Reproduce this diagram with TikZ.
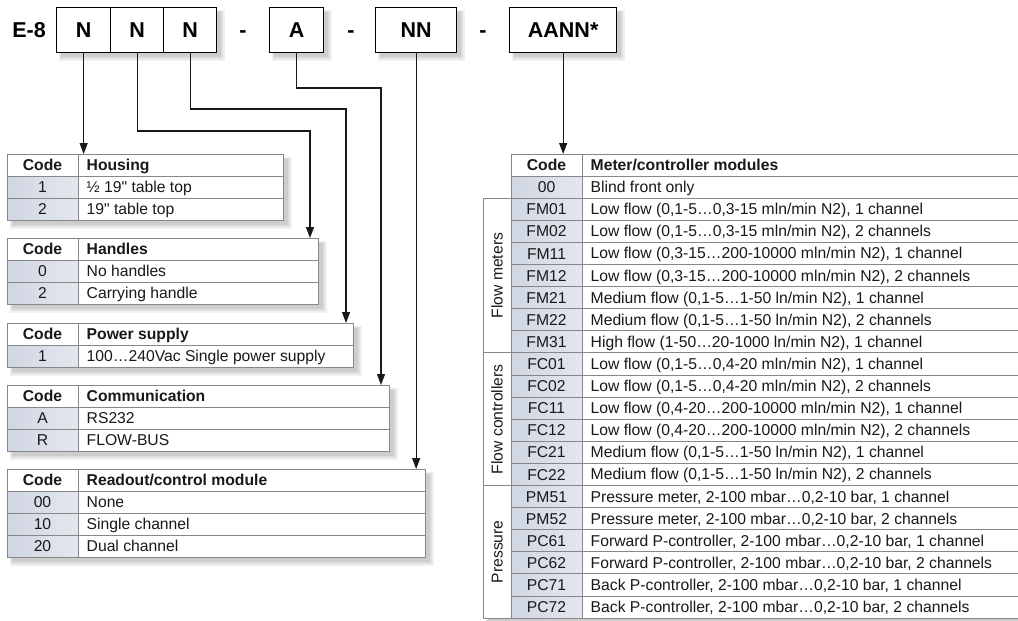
\documentclass[tikz,border=0pt]{standalone}
\usepackage{fontspec}
\setmainfont{Liberation Sans}[Ligatures=TeXOff]
\usetikzlibrary{arrows.meta}
\definecolor{tline}{RGB}{135,135,135}
\definecolor{codeA}{RGB}{208,214,226}
\definecolor{codeB}{RGB}{228,231,238}
\definecolor{ink}{RGB}{25,25,25}
\newcommand{\tabfont}{\fontsize{15.7}{18}\selectfont}
\newcommand{\boxfont}{\fontsize{21.5}{24}\selectfont\bfseries}
\newcommand{\headrow}[5]{%
  \node[hcodecell] (#1c) at (#2,#3) {Code};
  \node[desccell, minimum width=#4pt] (#1d) at (#2+71,#3) {};
  \node[hdesctext] (#1t) at ([xshift=8.5pt,yshift=-5.5pt]#1d.west) {#5};
}
\newcommand{\tabrow}[6]{%
  \node[codecell] (#1c) at (#2,#3) {#5};
  \node[desccell, minimum width=#4pt] (#1d) at (#2+71,#3) {};
  \node[desctext] (#1t) at ([xshift=8.5pt,yshift=-5.5pt]#1d.west) {#6};
}
\newcommand{\softshadow}[4]{%
  \fill[black,opacity=0.06] (#1+3,#2+3) rectangle (#3+9,#4+9);
  \fill[black,opacity=0.07] (#1+4,#2+4) rectangle (#3+7,#4+7);
  \fill[black,opacity=0.08] (#1+5,#2+5) rectangle (#3+5,#4+5);
}
\tikzset{
  cellbase/.style={draw=tline, line width=0.9pt, inner sep=0pt, outer sep=0pt,
    anchor=north west, minimum height=22.1pt, text=ink, text height=11.1pt, text depth=0pt},
  codecell/.style={cellbase, minimum width=71pt, left color=codeA, right color=codeB, font=\tabfont},
  hcodecell/.style={cellbase, minimum width=71pt, fill=white, font=\tabfont\bfseries},
  desccell/.style={cellbase, fill=white},
  catcell/.style={cellbase, fill=white, minimum width=28pt},
  desctext/.style={anchor=base west, inner sep=0pt, font=\tabfont, text=ink},
  hdesctext/.style={desctext, font=\tabfont\bfseries},
  cattext/.style={rotate=90, inner sep=0pt, font=\tabfont, text=ink, text height=11.1pt, text depth=0pt},
  hbox/.style={draw=black, line width=1.3pt, fill=white, minimum height=45pt, inner sep=0pt,
    font=\boxfont, anchor=north west, text height=15.4pt, text depth=0pt},
  hlabel/.style={inner sep=0pt, font=\boxfont, text height=15.4pt, text depth=0pt},
  conn/.style={draw=black!90, line width=1.2pt},
  arr/.style={conn, -{Triangle[width=8pt,length=11pt]}},
}
\begin{document}
\begin{tikzpicture}[x=1pt,y=-1pt]
\useasboundingbox (0,0) rectangle (1018,621);
\clip (0,0) rectangle (1018,621);
\fill[white] (0,0) rectangle (1018,621);

% shadows
\softshadow{56}{7}{216}{52}
\softshadow{269}{7}{323}{52}
\softshadow{375}{7}{456}{52}
\softshadow{509}{7}{616}{52}
\softshadow{7}{154}{283}{220.3}
\softshadow{7}{238}{318}{304.3}
\softshadow{7}{323}{353}{367.2}
\softshadow{7}{385}{389}{451.3}
\softshadow{7}{469}{425}{557.4}
\softshadow{511}{154}{1030}{198.2}
\softshadow{483}{198.2}{1030}{618.1}

% header code
\node[hlabel] (e8) at (29,29.5) {E-8};
\node[hbox, minimum width=54pt] (n1) at (56,7) {N};
\node[hbox, minimum width=53pt] (n2) at (110,7) {N};
\node[hbox, minimum width=53pt] (n3) at (163,7) {N};
\node[hlabel] (dash1) at (243,29.5) {-};
\node[hbox, minimum width=54pt] (ba) at (269,7) {A};
\node[hlabel] (dash2) at (351,29.5) {-};
\node[hbox, minimum width=81pt] (bnn) at (375,7) {NN};
\node[hlabel] (dash3) at (483,29.5) {-};
\node[hbox, minimum width=107pt] (baann) at (509,7) {AANN*};

% Housing
\headrow{hous}{7}{154}{205}{Housing}
\tabrow{housa}{7}{176.1}{205}{1}{½ 19" table top}
\tabrow{housb}{7}{198.2}{205}{2}{19" table top}
% Handles
\headrow{hand}{7}{238}{240}{Handles}
\tabrow{handa}{7}{260.1}{240}{0}{No handles}
\tabrow{handb}{7}{282.2}{240}{2}{Carrying handle}
% Power
\headrow{pow}{7}{323}{275}{Power supply}
\tabrow{powa}{7}{345.1}{275}{1}{100…240Vac Single power supply}
% Communication
\headrow{com}{7}{385}{311}{Communication}
\tabrow{coma}{7}{407.1}{311}{A}{RS232}
\tabrow{comb}{7}{429.2}{311}{R}{FLOW-BUS}
% Readout
\headrow{read}{7}{469}{347}{Readout/control module}
\tabrow{reada}{7}{491.1}{347}{00}{None}
\tabrow{readb}{7}{513.2}{347}{10}{Single channel}
\tabrow{readc}{7}{535.3}{347}{20}{Dual channel}

% Meter/controller modules
\headrow{mh}{511}{154}{520}{Meter/controller modules}
\tabrow{m00}{511}{176.1}{520}{00}{Blind front only}
\node[catcell, minimum height=154.7pt] (catfm) at (483,198.2) {};
\node[catcell, minimum height=132.6pt] (catfc) at (483,352.9) {};
\node[catcell, minimum height=132.6pt] (catp) at (483,485.5) {};
\node[cattext] (tfm) at (catfm.center) {Flow meters};
\node[cattext] (tfc) at (catfc.center) {Flow controllers};
\node[cattext] (tp) at (catp.center) {Pressure};
\tabrow{fm01}{511}{198.2}{520}{FM01}{Low flow (0,1-5…0,3-15 mln/min N2), 1 channel}
\tabrow{fm02}{511}{220.3}{520}{FM02}{Low flow (0,1-5…0,3-15 mln/min N2), 2 channels}
\tabrow{fm11}{511}{242.4}{520}{FM11}{Low flow (0,3-15…200-10000 mln/min N2), 1 channel}
\tabrow{fm12}{511}{264.5}{520}{FM12}{Low flow (0,3-15…200-10000 mln/min N2), 2 channels}
\tabrow{fm21}{511}{286.6}{520}{FM21}{Medium flow (0,1-5…1-50 ln/min N2), 1 channel}
\tabrow{fm22}{511}{308.7}{520}{FM22}{Medium flow (0,1-5…1-50 ln/min N2), 2 channels}
\tabrow{fm31}{511}{330.8}{520}{FM31}{High flow (1-50…20-1000 ln/min N2), 1 channel}
\tabrow{fc01}{511}{352.9}{520}{FC01}{Low flow (0,1-5…0,4-20 mln/min N2), 1 channel}
\tabrow{fc02}{511}{375.0}{520}{FC02}{Low flow (0,1-5…0,4-20 mln/min N2), 2 channels}
\tabrow{fc11}{511}{397.1}{520}{FC11}{Low flow (0,4-20…200-10000 mln/min N2), 1 channel}
\tabrow{fc12}{511}{419.2}{520}{FC12}{Low flow (0,4-20…200-10000 mln/min N2), 2 channels}
\tabrow{fc21}{511}{441.3}{520}{FC21}{Medium flow (0,1-5…1-50 ln/min N2), 1 channel}
\tabrow{fc22}{511}{463.4}{520}{FC22}{Medium flow (0,1-5…1-50 ln/min N2), 2 channels}
\tabrow{pm51}{511}{485.5}{520}{PM51}{Pressure meter, 2-100 mbar…0,2-10 bar, 1 channel}
\tabrow{pm52}{511}{507.6}{520}{PM52}{Pressure meter, 2-100 mbar…0,2-10 bar, 2 channels}
\tabrow{pc61}{511}{529.7}{520}{PC61}{Forward P-controller, 2-100 mbar…0,2-10 bar, 1 channel}
\tabrow{pc62}{511}{551.8}{520}{PC62}{Forward P-controller, 2-100 mbar…0,2-10 bar, 2 channels}
\tabrow{pc71}{511}{573.9}{520}{PC71}{Back P-controller, 2-100 mbar…0,2-10 bar, 1 channel}
\tabrow{pc72}{511}{596.0}{520}{PC72}{Back P-controller, 2-100 mbar…0,2-10 bar, 2 channels}

% connectors
\coordinate (k2) at (310,131);
\coordinate (k3) at (346,109);
\coordinate (ka) at (381,88);
\draw[arr] (n1.south) -- (n1.south |- housd.north);
\draw[arr] (n2.south) |- (k2) -- (k2 |- handd.north);
\draw[arr] (n3.south) |- (k3) -- (k3 |- powd.north);
\draw[arr] (ba.south) |- (ka) -- (ka |- comd.north);
\draw[arr] (bnn.south) -- (bnn.south |- readd.north);
\draw[arr] (baann.south) -- (baann.south |- mhd.north);
\end{tikzpicture}
\end{document}
